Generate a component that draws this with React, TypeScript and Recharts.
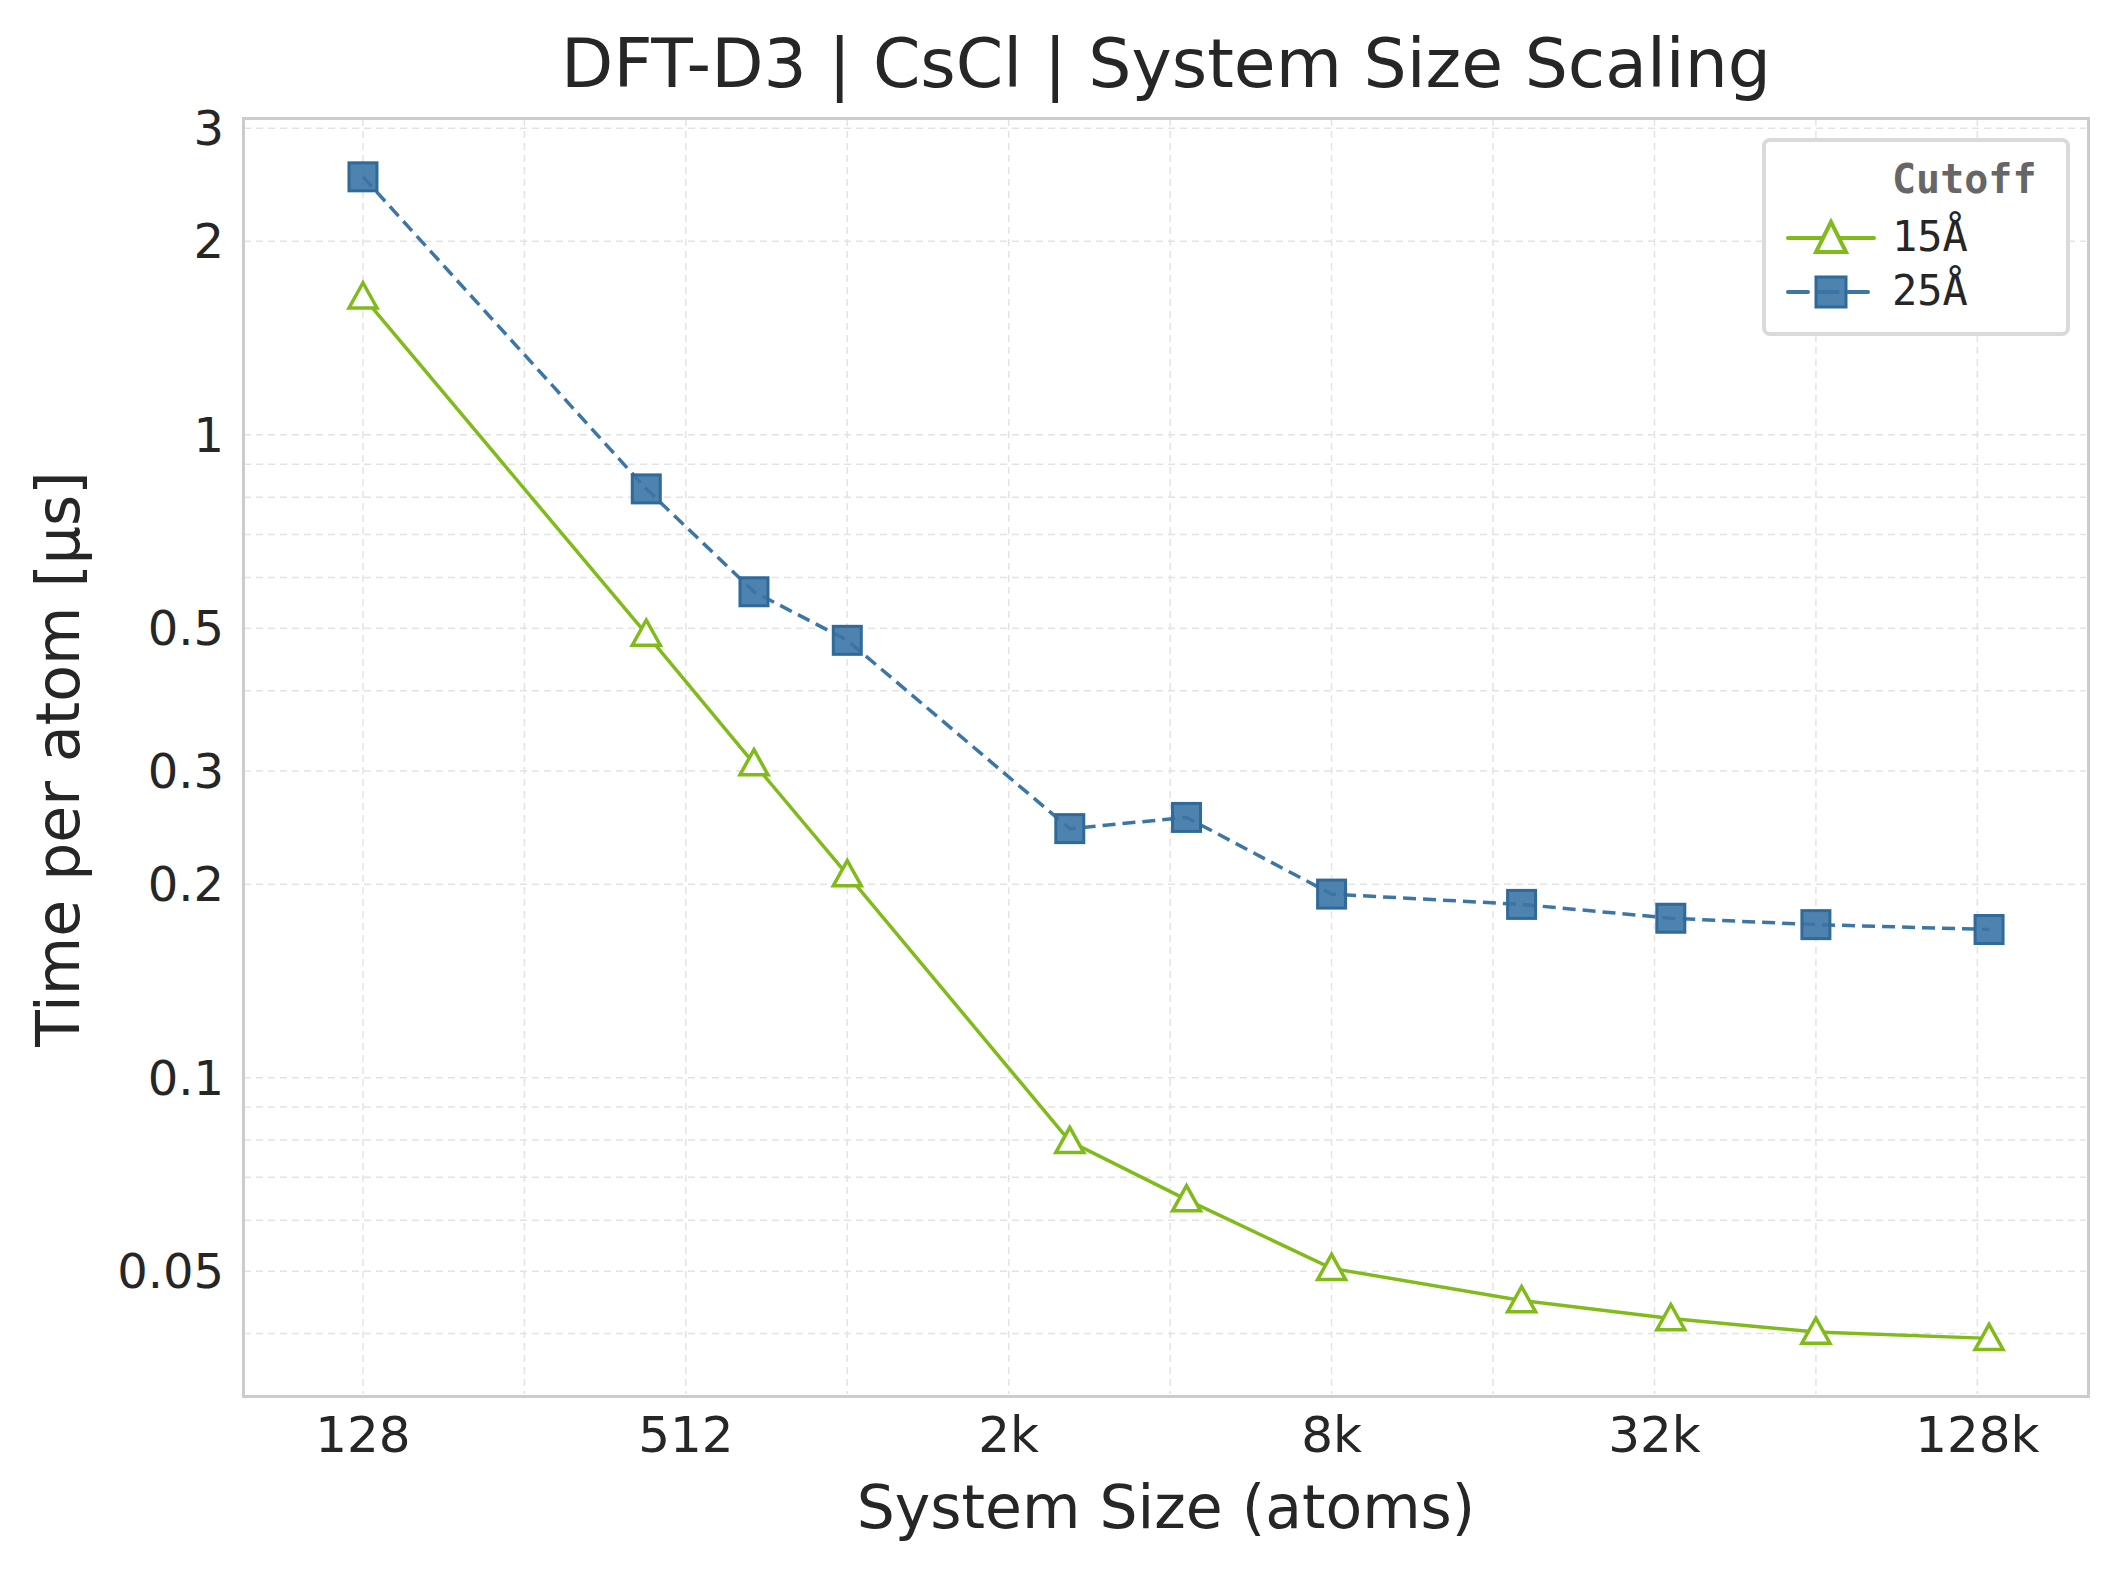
import React from 'react';
import { LineChart, Line, XAxis, YAxis, CartesianGrid } from 'recharts';

// System sizes (atoms) for CsCl supercells
const atoms = [128, 432, 686, 1024, 2662, 4394, 8192, 18522, 35152, 65536, 137842];
// Time per atom [µs]
const cutoff15 = [1.64, 0.49, 0.308, 0.207, 0.0796, 0.0646, 0.0505, 0.045, 0.0422, 0.0402, 0.0393];
const cutoff25 = [2.52, 0.824, 0.57, 0.479, 0.244, 0.254, 0.193, 0.186, 0.177, 0.173, 0.17];

const xTicks = [128, 512, 2048, 8192, 32768, 131072];
const yTicks = [0.05, 0.1, 0.2, 0.3, 0.5, 1, 2, 3];
const xGrid = [128, 256, 512, 1024, 2048, 4096, 8192, 16384, 32768, 65536, 131072];
const yGrid = [0.04, 0.05, 0.06, 0.07, 0.08, 0.09, 0.1, 0.2, 0.3, 0.4, 0.5, 0.6, 0.7, 0.8, 0.9, 1, 2, 3];

const data = atoms.map((n, i) => ({ n, c15: cutoff15[i], c25: cutoff25[i] }));

const GREEN = '#80bb1b';
const BLUE = '#3b76a6';
const W = 2119;
const H = 1574;
const PL = 244, PR = 2086, PT = 119, PB = 1394;

const fmtX = (v: number) => (v >= 1024 ? `${Math.round(v / 1024)}k` : `${v}`);

const Triangle = (p: any) => {
  const { cx, cy } = p;
  if (cx == null || cy == null) return null;
  const s = 14;
  return (
    <polygon
      key={`t${p.index}`}
      points={`${cx},${cy - s} ${cx - s},${cy + s * 0.8} ${cx + s},${cy + s * 0.8}`}
      fill="#fff"
      stroke={GREEN}
      strokeWidth={3.5}
    />
  );
};

const Square = (p: any) => {
  const { cx, cy } = p;
  if (cx == null || cy == null) return null;
  const s = 14;
  return (
    <rect
      key={`s${p.index}`}
      x={cx - s}
      y={cy - s}
      width={2 * s}
      height={2 * s}
      fill={BLUE}
      fillOpacity={0.9}
      stroke="#2f6a9a"
      strokeWidth={3}
    />
  );
};

const font = '"DejaVu Sans", sans-serif';
const mono = '"DejaVu Sans Mono", monospace';

export default function App() {
  return (
    <div style={{ position: 'absolute', left: 0, top: 0, width: W, height: H, background: '#fff', fontFamily: font, color: '#262626' }}>
      <LineChart
        width={W}
        height={H}
        data={data}
        margin={{ top: PT, right: W - PR, bottom: H - PB - 100, left: 0 }}
      >
        <CartesianGrid
          stroke="#e3e3e3"
          strokeDasharray="7 5"
          strokeWidth={1.5}
          horizontalValues={yGrid}
          verticalValues={xGrid}
        />
        <XAxis
          dataKey="n"
          type="number"
          scale="log"
          domain={[76.8, 209000]}
          ticks={xTicks}
          tickFormatter={fmtX}
          allowDataOverflow
          height={100}
          axisLine={false}
          tickLine={false}
          tickSize={0}
          tickMargin={22}
          tick={{ fontSize: 50, fill: '#262626', fontFamily: font }}
        />
        <YAxis
          type="number"
          scale="log"
          domain={[0.0322, 3.1]}
          ticks={yTicks}
          allowDataOverflow
          width={PL}
          axisLine={false}
          tickLine={false}
          tickSize={0}
          tickMargin={20}
          tick={{ fontSize: 48, fill: '#262626', fontFamily: font }}
        />
        <Line
          dataKey="c15"
          stroke={GREEN}
          strokeWidth={3.5}
          dot={Triangle}
          isAnimationActive={false}
        />
        <Line
          dataKey="c25"
          stroke={BLUE}
          strokeWidth={3.5}
          strokeDasharray="13 7"
          dot={Square}
          isAnimationActive={false}
        />
      </LineChart>

      {/* frame */}
      <div style={{ position: 'absolute', left: PL - 2, top: PT - 2, width: PR - PL, height: PB - PT, border: '3px solid #cccccc', pointerEvents: 'none' }} />

      {/* title */}
      <div style={{ position: 'absolute', left: 0, width: 2332, top: 24, textAlign: 'center', fontSize: 68, lineHeight: '80px' }}>
        DFT-D3 | CsCl | System Size Scaling
      </div>
      {/* x label */}
      <div style={{ position: 'absolute', left: 0, width: 2332, top: 1472, textAlign: 'center', fontSize: 60, lineHeight: '70px' }}>
        System Size (atoms)
      </div>
      {/* y label */}
      <div style={{ position: 'absolute', left: 58 - 400, top: 759 - 35, width: 800, textAlign: 'center', fontSize: 60, lineHeight: '70px', transform: 'rotate(-90deg)' }}>
        Time per atom [µs]
      </div>

      {/* legend */}
      <div style={{ position: 'absolute', left: 1762, top: 138, width: 300, height: 190, border: '4px solid #dadada', borderRadius: 8, background: '#fff' }}>
        <div style={{ position: 'absolute', left: 126, top: 14, fontFamily: mono, fontWeight: 'bold', fontSize: 40, color: '#666' }}>Cutoff</div>
        <svg style={{ position: 'absolute', left: 18, top: 68 }} width={100} height={110}>
          <line x1={4} y1={28} x2={90} y2={28} stroke={GREEN} strokeWidth={4} strokeLinecap="round" />
          <polygon points="47,12 32,42 62,42" fill="#fff" stroke={GREEN} strokeWidth={4} />
          <line x1={4} y1={82} x2={86} y2={82} stroke={BLUE} strokeWidth={4} strokeDasharray="20 10" strokeLinecap="round" />
          <rect x={32} y={67} width={30} height={30} fill={BLUE} fillOpacity={0.9} stroke="#2f6a9a" strokeWidth={3} />
        </svg>
        <div style={{ position: 'absolute', left: 126, top: 70, fontFamily: mono, fontSize: 42, lineHeight: '50px' }}>15Å</div>
        <div style={{ position: 'absolute', left: 126, top: 124, fontFamily: mono, fontSize: 42, lineHeight: '50px' }}>25Å</div>
      </div>
    </div>
  );
}
